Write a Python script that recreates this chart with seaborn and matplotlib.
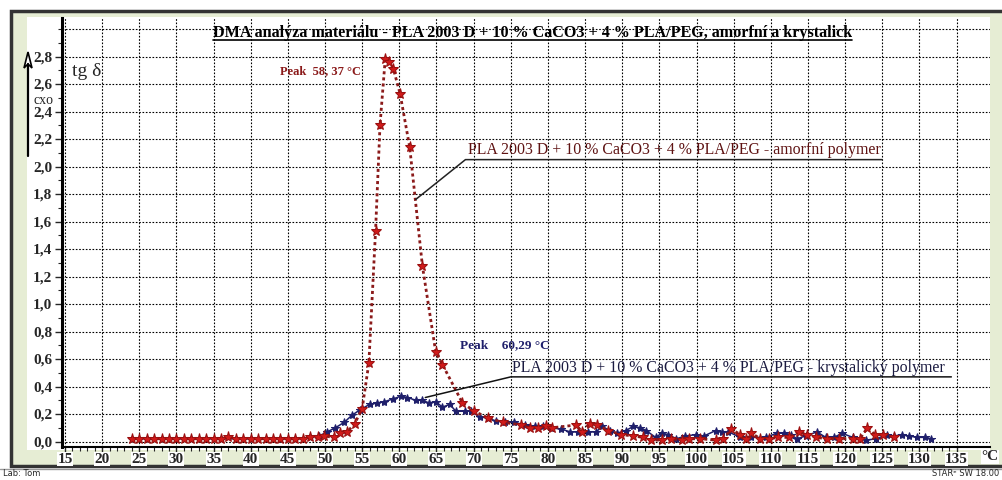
import numpy as np
import pandas as pd
import matplotlib
matplotlib.use("Agg")
import matplotlib.pyplot as plt
import seaborn as sns
from matplotlib.patches import Rectangle
from matplotlib.lines import Line2D
from matplotlib.transforms import Bbox, TransformedBbox

# --- data (temperature in degC, tan delta) ---
temp_amorf = [24, 25, 26, 27, 28, 29, 30, 31, 32, 33, 34, 35, 36, 37, 38, 39, 40,
              41, 42, 43, 44, 45, 46, 47, 48, 49, 49.9, 51.2, 52.0, 53.0, 54.0,
              55.0, 55.9, 56.8, 57.4, 58.1, 58.6, 59.2, 60.1, 61.4, 63.1, 64.9,
              65.8, 68.5, 70.1, 72.0, 73.9, 76.4, 77.6, 78.6, 79.7, 80.6, 83.8,
              84.6, 85.6, 86.6, 88.1, 89.9, 91.5, 92.8, 93.9, 95.3, 96.6, 98.0,
              99.0, 100.5, 102.6, 103.6, 104.7, 105.9, 106.6, 107.4, 108.6, 109.8,
              111.0, 112.4, 113.8, 114.9, 116.1, 117.5, 119.2, 121.0, 122.0, 123.0,
              124.0, 125.1, 126.6]
tan_amorf = [0.02, 0.02, 0.02, 0.02, 0.02, 0.02, 0.02, 0.02, 0.02, 0.02, 0.02,
             0.02, 0.02, 0.03, 0.02, 0.02, 0.02, 0.02, 0.02, 0.02, 0.02, 0.02,
             0.02, 0.02, 0.03, 0.03, 0.04, 0.03, 0.06, 0.07, 0.13, 0.24, 0.57,
             1.53, 2.30, 2.78, 2.76, 2.71, 2.53, 2.14, 1.28, 0.65, 0.56, 0.28,
             0.22, 0.17, 0.14, 0.12, 0.10, 0.10, 0.11, 0.10, 0.12, 0.07, 0.13,
             0.12, 0.08, 0.05, 0.04, 0.03, 0.01, 0.01, 0.02, 0.01, 0.02, 0.02,
             0.01, 0.02, 0.09, 0.05, 0.02, 0.06, 0.02, 0.02, 0.03, 0.03, 0.07,
             0.05, 0.03, 0.02, 0.02, 0.02, 0.02, 0.10, 0.05, 0.05, 0.03]

temp_kryst = [24, 26, 28, 30, 32, 34, 36, 38, 40, 42, 44, 46, 48, 49.2, 50.3,
              51.4, 52.6, 53.6, 54.7, 56.0, 57.0, 58.0, 59.2, 60.2, 61.1, 62.2,
              63.1, 64.0, 64.9, 65.8, 66.8, 67.6, 68.8, 69.6, 70.8, 71.9, 73.0,
              74.2, 75.5, 76.9, 78.2, 79.3, 80.4, 81.8, 83.0, 84.0, 85.4, 86.5,
              87.3, 88.3, 89.3, 90.5, 91.5, 92.4, 93.2, 94.5, 95.3, 96.2, 97.3,
              98.5, 99.9, 101.0, 102.6, 103.4, 104.3, 105.9, 107.4, 109.3, 110.8,
              111.8, 112.7, 113.5, 114.7, 116.2, 117.4, 118.5, 119.6, 121.0, 122.8,
              124.2, 125.7, 126.6, 127.6, 128.6, 129.7, 130.7, 131.6]
tan_kryst = [0.02, 0.02, 0.02, 0.02, 0.02, 0.02, 0.02, 0.02, 0.02, 0.02, 0.02,
             0.02, 0.03, 0.04, 0.07, 0.10, 0.14, 0.19, 0.23, 0.27, 0.28, 0.29,
             0.31, 0.33, 0.32, 0.30, 0.30, 0.28, 0.29, 0.25, 0.27, 0.22, 0.22,
             0.22, 0.18, 0.17, 0.15, 0.14, 0.14, 0.12, 0.11, 0.11, 0.10, 0.09,
             0.07, 0.07, 0.07, 0.07, 0.11, 0.08, 0.06, 0.08, 0.11, 0.10, 0.08,
             0.03, 0.06, 0.05, 0.02, 0.04, 0.05, 0.04, 0.08, 0.07, 0.07, 0.03,
             0.03, 0.03, 0.06, 0.06, 0.05, 0.02, 0.04, 0.07, 0.03, 0.03, 0.06,
             0.03, 0.01, 0.02, 0.05, 0.04, 0.05, 0.04, 0.03, 0.03, 0.02]

x_ticks = list(range(15, 136, 5))
y_ticks = [round(0.2 * i, 1) for i in range(15)]

title = "DMA analýza materiálu - PLA 2003 D + 10 % CaCO3 + 4 % PLA/PEG, amorfní a krystalický"
label_amorf = "PLA 2003 D + 10 % CaCO3 + 4 % PLA/PEG - amorfní polymer"
label_kryst = "PLA 2003 D + 10 % CaCO3 + 4 % PLA/PEG - krystalický polymer"

RED_LINE = "#8b1a1a"
RED_MARK = "#d01a1a"
BLUE = "#1f1f6b"

W, H = 1003, 480


def fx(px):
    return px / W


def fy(py):
    return 1 - py / H


sns.set_style("white")
plt.rcParams["font.family"] = ["Liberation Serif", "DejaVu Serif"]

fig = plt.figure(figsize=(W / 100, H / 100), dpi=100)
fig.patch.set_facecolor("white")

# outer frame (green) and white panel
fig.patches.append(Rectangle((fx(11), fy(466)), fx(1010 - 11), fy(11) - fy(466),
                             transform=fig.transFigure, facecolor="#e6edd4",
                             edgecolor="#333333", lw=2.5, zorder=-2))
fig.patches.append(Rectangle((fx(27), fy(450)), fx(990 - 27), fy(17) - fy(450),
                             transform=fig.transFigure, facecolor="white",
                             edgecolor="none", zorder=-1))
fig.lines.append(Line2D([0, 1], [fy(469), fy(469)], transform=fig.transFigure,
                        color="#999999", lw=1))

ax = fig.add_axes([fx(62), fy(447), fx(990 - 62), fy(18) - fy(447)])
ax.set_facecolor("none")

df_k = pd.DataFrame({"T": temp_kryst, "tan": tan_kryst})
df_a = pd.DataFrame({"T": temp_amorf, "tan": tan_amorf})

sns.lineplot(data=df_k, x="T", y="tan", ax=ax, color=BLUE, lw=1.1,
             marker="*", markersize=6, markerfacecolor=BLUE, markeredgecolor=BLUE,
             sort=False, estimator=None, zorder=3)
sns.lineplot(data=df_a, x="T", y="tan", ax=ax, color=RED_LINE, lw=2,
             linestyle=(0, (1.1, 1.1)), marker="*", markersize=8,
             markerfacecolor=RED_MARK, markeredgecolor="#9a1010",
             sort=False, estimator=None, zorder=4)

ax.set_xlim(14.6, 139.5)
ax.set_ylim(-0.04, 3.08)
ax.set_xlabel("")
ax.set_ylabel("")

# grid
for xv in x_ticks:
    ax.axvline(xv, color="black", lw=0.8, linestyle=(0, (1.5, 1.5)), zorder=1)
for yv in y_ticks + [3.0]:
    ax.axhline(yv, color="black", lw=0.8, linestyle=(0, (1.5, 1.5)), zorder=1)

ax.set_xticks(x_ticks)
ax.set_xticklabels([str(v) for v in x_ticks], fontweight="bold", fontsize=11)
ax.set_xticks(np.arange(15, 136, 1), minor=True)
ax.set_yticks(y_ticks)
ax.set_yticklabels([f"{v:.1f}".replace(".", ",") for v in y_ticks],
                   fontweight="bold", fontsize=11)
ax.set_yticks(np.arange(0, 3.01, 0.1), minor=True)
ax.tick_params(axis="x", which="major", direction="out", length=4, width=1, pad=0)
ax.tick_params(axis="x", which="minor", direction="out", length=3, width=0.8)
ax.tick_params(axis="y", which="major", direction="out", length=5, width=1, pad=2)
ax.tick_params(axis="y", which="minor", direction="out", length=3, width=0.8)
ax.tick_params(left=True, bottom=True, which="both")
for lbl in ax.get_xticklabels():
    lbl.set_bbox(dict(facecolor="white", edgecolor="none", pad=0.3))

for s in ["top", "right"]:
    ax.spines[s].set_visible(False)
ax.spines["left"].set_linewidth(2.2)
ax.spines["bottom"].set_linewidth(1.5)
ax.spines["left"].set_color("black")
ax.spines["bottom"].set_color("black")

fig.text(fx(990), fy(457), "°C", fontsize=11, fontweight="bold", ha="center",
         va="center", bbox=dict(facecolor="white", edgecolor="none", pad=0.3))

# title, underlined and clipped like the original
t = fig.text(fx(213), fy(33), title, fontsize=11.6, fontweight="bold",
             ha="left", va="center", color="black")
t.set_clip_box(TransformedBbox(Bbox([[fx(200), fy(45)], [fx(852), fy(20)]]),
                               fig.transFigure))
t.set_clip_on(True)
fig.lines.append(Line2D([fx(213), fx(852)], [fy(40), fy(40)],
                        transform=fig.transFigure, color="black", lw=1.2))

# left side labels
fig.text(fx(72), fy(71), "tg δ", fontsize=14, ha="left", va="center")
fig.text(fx(44), fy(100), "cxo", fontsize=10, ha="center", va="center")
fig.patches.append(plt.Polygon([[fx(28), fy(52)], [fx(24), fy(68)], [fx(28), fy(64)],
                                [fx(32), fy(68)]], closed=True,
                               transform=fig.transFigure, facecolor="white",
                               edgecolor="black", lw=1.2))
fig.lines.append(Line2D([fx(28), fx(28)], [fy(64), fy(156)],
                        transform=fig.transFigure, color="black", lw=1.6))

# peak labels
ax.text(43.9, 2.69, "Peak  58, 37 °C", fontsize=9, fontweight="bold",
        color=RED_LINE, ha="left", va="center")
ax.text(68.1, 0.70, "Peak    60,29 °C", fontsize=9.5, fontweight="bold",
        color=BLUE, ha="left", va="center")

# series labels with leader lines
ax.text(69.2, 2.12, label_amorf, fontsize=11.4, color="#5e1212",
        ha="left", va="center")
ax.plot([62.2, 68.9, 125.0], [1.76, 2.05, 2.05], color="#222222", lw=1.1,
        zorder=5)
ax.text(75.2, 0.535, label_kryst, fontsize=11.4, color="#1a1a40",
        ha="left", va="center")
ax.plot([63.5, 75.0, 134.3], [0.32, 0.47, 0.47], color="#111111", lw=1.1,
        zorder=5)

# footer
fig.text(fx(3), fy(474), "Lab: Tom", fontsize=6, family="DejaVu Sans",
         ha="left", va="center")
fig.text(fx(932), fy(474), "STARᵉ SW 18.00", fontsize=6, family="DejaVu Sans",
         ha="left", va="center")

fig.savefig("out.png", dpi=100)
